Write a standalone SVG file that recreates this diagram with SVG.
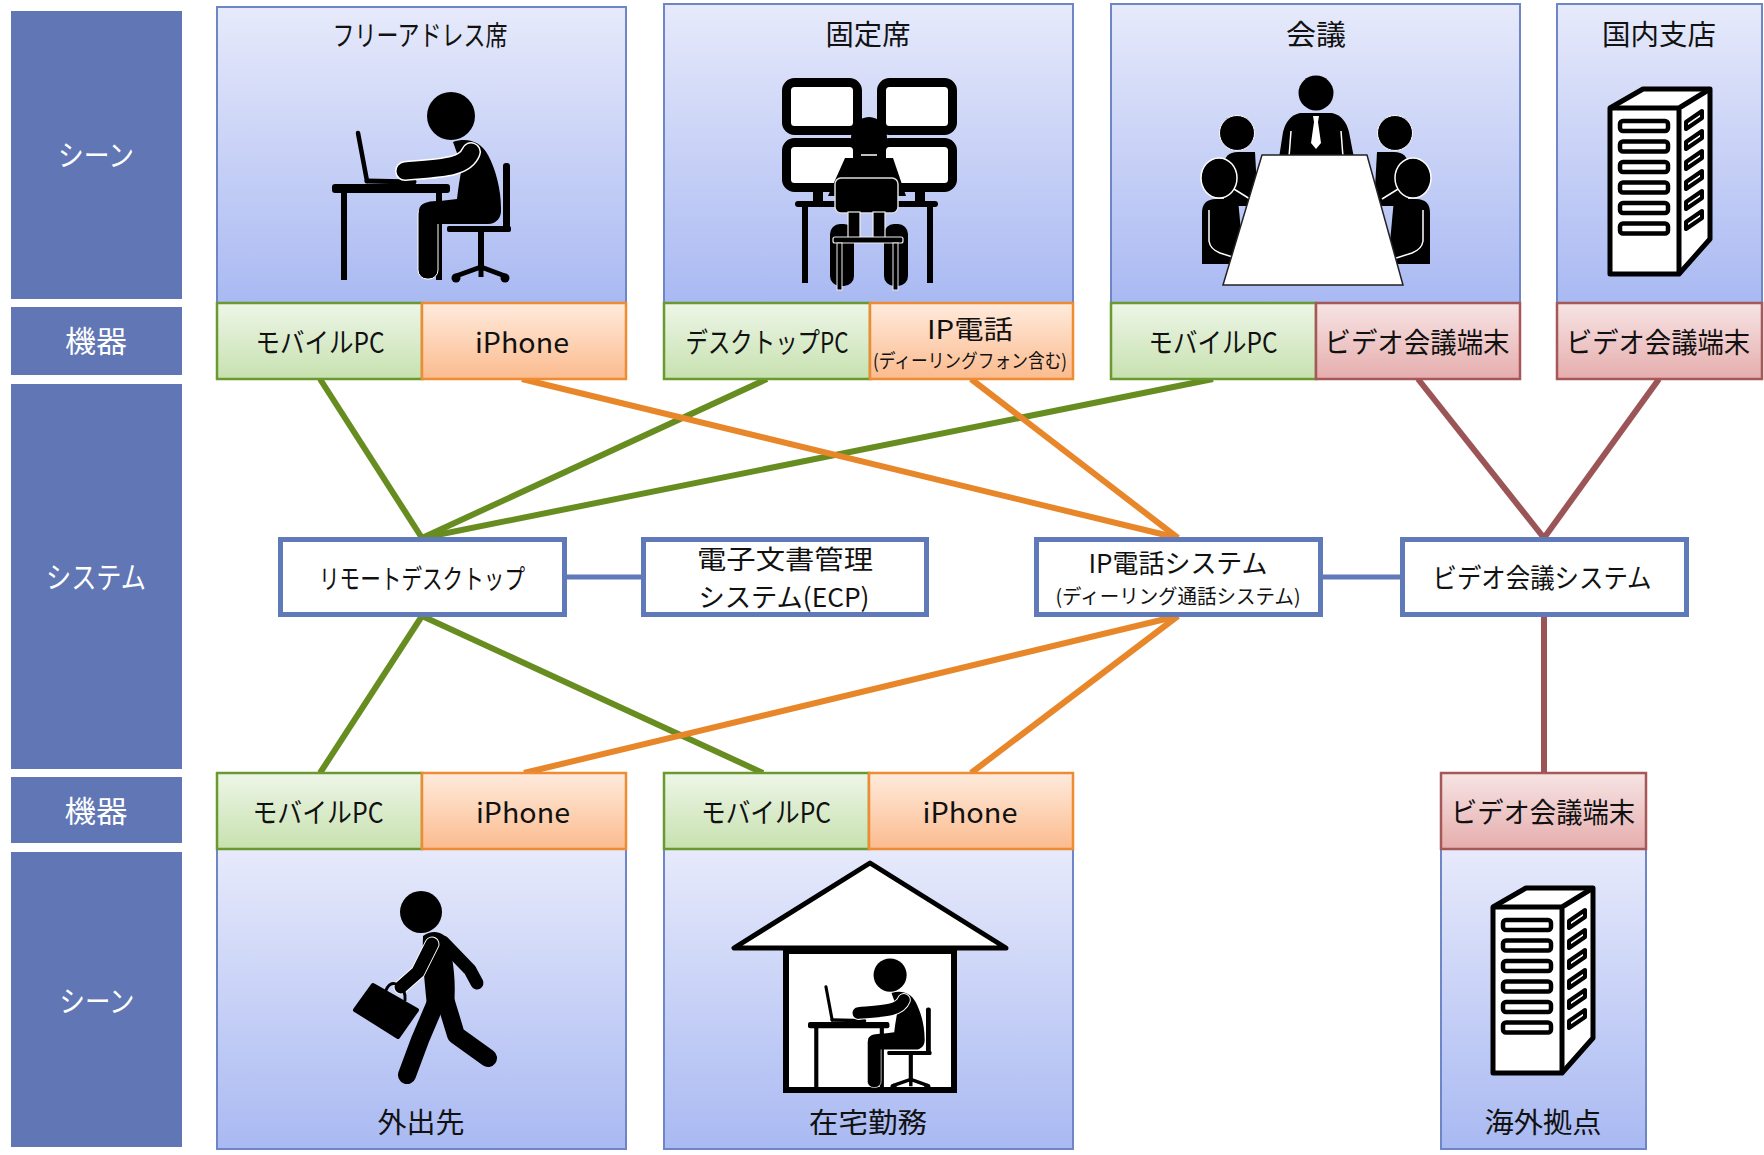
<svg xmlns="http://www.w3.org/2000/svg" xmlns:xlink="http://www.w3.org/1999/xlink" width="1764" height="1155" viewBox="0 0 1764 1155">
  <style>
    .t { font-family: "Noto Sans CJK JP", "Noto Sans", sans-serif; text-anchor: middle; fill: #111; }
    .side { fill: #6076B5; }
    .sideTxt { font-family: "Noto Sans CJK JP", "Noto Sans", sans-serif; text-anchor: middle; fill: #fff; font-size: 30px; }
    .scene { fill: url(#gScene); stroke: #6E86C5; stroke-width: 2; }
    .devG { fill: url(#gGreen); stroke: #6A9A2F; stroke-width: 2.5; }
    .devO { fill: url(#gOrange); stroke: #EE8B33; stroke-width: 2.5; }
    .devR { fill: url(#gRed); stroke: #A65758; stroke-width: 2.5; }
    .sys { fill: #fff; stroke: #6079B8; stroke-width: 5; }
    .cG { stroke: #678D21; stroke-width: 6; fill: none; }
    .cO { stroke: #E8862A; stroke-width: 6; fill: none; }
    .cR { stroke: #9C5557; stroke-width: 6; fill: none; }
    .cB { stroke: #6079B8; stroke-width: 5; fill: none; }
    .blk { fill: #000; }
    .wl { fill: none; stroke: #fff; stroke-width: 1.5; }
  </style>
  <defs>
    <linearGradient id="gScene" x1="0" y1="0" x2="0" y2="1">
      <stop offset="0" stop-color="#E7EAFB"/>
      <stop offset="1" stop-color="#A9B9F2"/>
    </linearGradient>
    <linearGradient id="gGreen" x1="0" y1="0" x2="0" y2="1">
      <stop offset="0" stop-color="#EEF6E8"/>
      <stop offset="1" stop-color="#C7E1AF"/>
    </linearGradient>
    <linearGradient id="gOrange" x1="0" y1="0" x2="0" y2="1">
      <stop offset="0" stop-color="#FFEBDD"/>
      <stop offset="1" stop-color="#FBBB8E"/>
    </linearGradient>
    <linearGradient id="gRed" x1="0" y1="0" x2="0" y2="1">
      <stop offset="0" stop-color="#F7E4E4"/>
      <stop offset="1" stop-color="#E6ADAD"/>
    </linearGradient>

    <!-- person working at a desk with a laptop -->
    <g id="deskWorker">
      <line x1="358" y1="133" x2="367" y2="181" stroke="#000" stroke-width="4.5" stroke-linecap="round"/>
      <line x1="367" y1="181" x2="414" y2="182" stroke="#000" stroke-width="5" stroke-linecap="round"/>
      <rect class="blk" x="332" y="184" width="118" height="9" rx="3"/>
      <rect class="blk" x="341" y="190" width="6" height="90"/>
      <rect class="blk" x="436" y="190" width="6" height="90"/>
      <!-- chair -->
      <rect class="blk" x="503" y="163" width="7" height="66" rx="3"/>
      <rect class="blk" x="478" y="231" width="6" height="38"/>
      <path d="M456,276 L481,267 L505,276 M481,267 L481,277" stroke="#000" stroke-width="5" fill="none" stroke-linejoin="round"/>
      <circle class="blk" cx="456" cy="278" r="4.5"/>
      <circle class="blk" cx="505" cy="278" r="4.5"/>
      <!-- body -->
      <rect class="blk" x="418" y="205" width="20" height="74" rx="9" stroke="#fff" stroke-width="1"/>
      <path class="blk" d="M453,142 C468,137 481,142 488,155 C496,170 501,190 501,208 C502,218 496,224 488,224 L428,224 C420,224 417,212 420,207 C423,202 430,201 440,201 L457,199 C458,189 460,177 462,167 Z"/>
      <rect class="blk" x="447" y="226" width="64" height="6" rx="2"/>
      <path d="M471,152 C465,168 440,168 405,171" stroke="#fff" stroke-width="20" fill="none" stroke-linecap="round"/>
      <path d="M471,152 C465,168 440,168 405,171" stroke="#000" stroke-width="17" fill="none" stroke-linecap="round"/>
      <circle class="blk" cx="451" cy="116" r="24"/>
    </g>

    <!-- server tower -->
    <g id="server" stroke="#000" stroke-linejoin="round">
      <path d="M0,0 L33,-19 L100,-19 L100,131 L69,166 L0,166 Z" fill="#fff" stroke-width="5"/>
      <path d="M0,0 L69,0 L100,-19 M69,0 L69,166" fill="none" stroke-width="5"/>
      <g fill="#fff" stroke-width="4.5">
        <rect x="10" y="13" width="48" height="10" rx="3"/>
        <rect x="10" y="33.5" width="48" height="10" rx="3"/>
        <rect x="10" y="54" width="48" height="10" rx="3"/>
        <rect x="10" y="74.5" width="48" height="10" rx="3"/>
        <rect x="10" y="95" width="48" height="10" rx="3"/>
        <rect x="10" y="115.5" width="48" height="10" rx="3"/>
      </g>
      <g fill="#fff" stroke-width="4">
        <path d="M76,14 L92,3 L92,10 L76,21 Z"/>
        <path d="M76,34 L92,23 L92,30 L76,41 Z"/>
        <path d="M76,54 L92,43 L92,50 L76,61 Z"/>
        <path d="M76,74 L92,63 L92,70 L76,81 Z"/>
        <path d="M76,94 L92,83 L92,90 L76,101 Z"/>
        <path d="M76,114 L92,103 L92,110 L76,121 Z"/>
      </g>
    </g>

    <!-- seated people at the left side of the meeting table -->
    <g id="sidePair">
      <path class="blk" d="M1224,206 L1224,166 Q1224,152 1238,152 L1255,152 L1258,206 Z"/>
      <path class="wl" d="M1229,162 L1229,186 L1250,199"/>
      <circle class="blk" cx="1237" cy="133" r="17.5" stroke="#fff" stroke-width="1"/>
      <path class="blk" d="M1202,264 L1202,213 Q1202,199 1216,199 L1238,199 L1244,264 Z"/>
      <path class="wl" d="M1209,210 L1209,241 Q1210,249 1220,253 L1242,260"/>
      <ellipse class="blk" cx="1219" cy="178" rx="18" ry="20" stroke="#fff" stroke-width="1.5"/>
    </g>
  </defs>

  <!-- row labels -->
  <g id="rowLabels">
    <rect class="side" x="11" y="11" width="171" height="288"/>
    <rect class="side" x="11" y="307" width="171" height="68"/>
    <rect class="side" x="11" y="384" width="171" height="385"/>
    <rect class="side" x="11" y="777" width="171" height="66"/>
    <rect class="side" x="11" y="852" width="171" height="295"/>
    <text class="sideTxt" x="96" y="166" textLength="76" lengthAdjust="spacingAndGlyphs">シーン</text>
    <text class="sideTxt" x="96" y="352" textLength="62" lengthAdjust="spacingAndGlyphs">機器</text>
    <text class="sideTxt" x="96" y="588" textLength="100" lengthAdjust="spacingAndGlyphs">システム</text>
    <text class="sideTxt" x="96" y="822" textLength="63" lengthAdjust="spacingAndGlyphs">機器</text>
    <text class="sideTxt" x="97" y="1012" textLength="75" lengthAdjust="spacingAndGlyphs">シーン</text>
  </g>

  <!-- connectors -->
  <g id="connectors" stroke-linecap="butt">
    <path class="cB" d="M567,577 L641,577"/>
    <path class="cB" d="M1323,577 L1400,577"/>
    <path class="cG" d="M320,379 L422,538"/>
    <path class="cG" d="M767,379 L422,538"/>
    <path class="cG" d="M1213,379 L422,538"/>
    <path class="cG" d="M422,616 L320,773"/>
    <path class="cG" d="M422,616 L763,773"/>
    <path class="cO" d="M522,379 L1178,538"/>
    <path class="cO" d="M971,379 L1178,538"/>
    <path class="cO" d="M1178,616 L524,773"/>
    <path class="cO" d="M1178,616 L971,773"/>
    <path class="cR" d="M1418,379 L1544,538"/>
    <path class="cR" d="M1659,379 L1544,538"/>
    <path class="cR" d="M1544,616 L1544,773"/>
  </g>

  <!-- scene: free address seats -->
  <g id="freeAddress">
    <rect class="scene" x="217" y="7" width="409" height="296"/>
    <text class="t" x="420" y="46" font-size="28" textLength="175" lengthAdjust="spacingAndGlyphs">フリーアドレス席</text>
    <use href="#deskWorker"/>
    <rect class="devG" x="217" y="303" width="205" height="76"/>
    <rect class="devO" x="422" y="303" width="204" height="76"/>
    <text class="t" x="320" y="353" font-size="28" textLength="129" lengthAdjust="spacingAndGlyphs">モバイルPC</text>
    <text class="t" x="522" y="353" font-size="28" textLength="94" lengthAdjust="spacingAndGlyphs">iPhone</text>
  </g>

  <!-- scene: fixed seats -->
  <g id="fixedSeat">
    <rect class="scene" x="664" y="4" width="409" height="299"/>
    <text class="t" x="868" y="45" font-size="28" textLength="85" lengthAdjust="spacingAndGlyphs">固定席</text>
    <g stroke="#000" stroke-width="9" fill="#fff">
      <rect x="786.5" y="82.5" width="71" height="48" rx="8"/>
      <rect x="881.5" y="82.5" width="71" height="48" rx="8"/>
      <rect x="786.5" y="142.5" width="71" height="45" rx="8"/>
      <rect x="881.5" y="142.5" width="71" height="45" rx="8"/>
    </g>
    <rect class="blk" x="813" y="188" width="10" height="15"/>
    <rect class="blk" x="915" y="188" width="10" height="15"/>
    <rect class="blk" x="795" y="201" width="143" height="6" rx="3"/>
    <rect class="blk" x="802" y="205" width="6" height="78"/>
    <rect class="blk" x="927" y="205" width="6" height="78"/>
    <ellipse class="blk" cx="869" cy="138" rx="18" ry="21"/>
    <path class="blk" d="M856,148 L882,148 L884,158 L893,158 L906,196 L828,196 L845,158 L854,158 Z"/>
    <path class="wl" d="M861,155 L877,155"/>
    <rect class="blk" x="830" y="224" width="24" height="62" rx="10"/>
    <rect class="blk" x="884" y="224" width="24" height="62" rx="10"/>
    <rect class="blk" x="835" y="178" width="63" height="35" rx="6" stroke="#ddd" stroke-width="1.5"/>
    <rect class="blk" x="848" y="212" width="12" height="26" stroke="#eee" stroke-width="1.2"/>
    <rect class="blk" x="873" y="212" width="12" height="26" stroke="#eee" stroke-width="1.2"/>
    <rect class="blk" x="833" y="237" width="70" height="6" rx="2" stroke="#eee" stroke-width="1.2"/>
    <rect class="blk" x="837" y="243" width="5" height="47" stroke="#eee" stroke-width="1"/>
    <rect class="blk" x="893" y="243" width="5" height="47" stroke="#eee" stroke-width="1"/>
    <rect class="devG" x="664" y="303" width="206" height="76"/>
    <rect class="devO" x="870" y="303" width="203" height="76"/>
    <text class="t" x="767" y="353" font-size="28" textLength="163" lengthAdjust="spacingAndGlyphs">デスクトップPC</text>
    <text class="t" x="970" y="339" font-size="26" textLength="86" lengthAdjust="spacingAndGlyphs">IP電話</text>
    <text class="t" x="970" y="368" font-size="19" textLength="194" lengthAdjust="spacingAndGlyphs">(ディーリングフォン含む)</text>
  </g>

  <!-- scene: meeting -->
  <g id="meeting">
    <rect class="scene" x="1111" y="4" width="409" height="299"/>
    <text class="t" x="1316" y="45" font-size="28" textLength="60" lengthAdjust="spacingAndGlyphs">会議</text>
    <use href="#sidePair"/>
    <use href="#sidePair" transform="matrix(-1,0,0,1,2632,0)"/>
    <circle class="blk" cx="1316" cy="93" r="17.5"/>
    <path class="blk" d="M1279,158 L1283,132 Q1287,116 1300,113 L1332,113 Q1345,116 1349,132 L1354,158 Z"/>
    <path d="M1313,116 L1319,116 L1318,122 L1321,143 L1316,149 L1311,143 L1314,122 Z" fill="#fff"/>
    <path class="wl" d="M1291,131 L1289,157 M1341,131 L1343,157"/>
    <polygon points="1262,155 1367,155 1403,285 1223,285" fill="#fff" stroke="#222" stroke-width="1.5"/>
    <rect class="devG" x="1111" y="303" width="205" height="76"/>
    <rect class="devR" x="1316" y="303" width="204" height="76"/>
    <text class="t" x="1213" y="353" font-size="28" textLength="129" lengthAdjust="spacingAndGlyphs">モバイルPC</text>
    <text class="t" x="1417" y="353" font-size="28" textLength="185" lengthAdjust="spacingAndGlyphs">ビデオ会議端末</text>
  </g>

  <!-- scene: domestic branch -->
  <g id="domesticBranch">
    <rect class="scene" x="1557" y="4" width="205" height="299"/>
    <text class="t" x="1659" y="45" font-size="28" textLength="114" lengthAdjust="spacingAndGlyphs">国内支店</text>
    <use href="#server" transform="translate(1610,108)"/>
    <rect class="devR" x="1557" y="303" width="205" height="76"/>
    <text class="t" x="1658" y="353" font-size="28" textLength="184" lengthAdjust="spacingAndGlyphs">ビデオ会議端末</text>
  </g>

  <!-- systems -->
  <g id="remoteDesktop">
    <rect class="sys" x="280.5" y="539.5" width="284" height="75"/>
    <text class="t" x="422" y="589" font-size="27" textLength="206" lengthAdjust="spacingAndGlyphs">リモートデスクトップ</text>
  </g>
  <g id="ecp">
    <rect class="sys" x="643.5" y="539.5" width="283" height="75"/>
    <text class="t" x="785" y="569" font-size="26" textLength="176" lengthAdjust="spacingAndGlyphs">電子文書管理</text>
    <text class="t" x="784" y="607" font-size="26" textLength="171" lengthAdjust="spacingAndGlyphs">システム(ECP)</text>
  </g>
  <g id="ipPhoneSystem">
    <rect class="sys" x="1036.5" y="539.5" width="284" height="75"/>
    <text class="t" x="1178" y="573" font-size="26" textLength="179" lengthAdjust="spacingAndGlyphs">IP電話システム</text>
    <text class="t" x="1178" y="604" font-size="20" textLength="245" lengthAdjust="spacingAndGlyphs">(ディーリング通話システム)</text>
  </g>
  <g id="videoConfSystem">
    <rect class="sys" x="1402.5" y="539.5" width="284" height="75"/>
    <text class="t" x="1542" y="588" font-size="27" textLength="219" lengthAdjust="spacingAndGlyphs">ビデオ会議システム</text>
  </g>

  <!-- scene: on the road -->
  <g id="outside">
    <rect class="scene" x="217" y="849" width="409" height="300"/>
    <rect class="devG" x="217" y="773" width="205" height="76"/>
    <rect class="devO" x="422" y="773" width="204" height="76"/>
    <text class="t" x="318" y="823" font-size="28" textLength="131" lengthAdjust="spacingAndGlyphs">モバイルPC</text>
    <text class="t" x="523" y="823" font-size="28" textLength="94" lengthAdjust="spacingAndGlyphs">iPhone</text>
    <g stroke-linecap="round" stroke-linejoin="round" fill="none">
      <path d="M437,1000 L420,1040 L407,1075" stroke="#000" stroke-width="18"/>
      <path d="M446,1002 L456,1035 L488,1058" stroke="#000" stroke-width="18"/>
      <path d="M443,942 L470,970 L477,983" stroke="#000" stroke-width="13"/>
      <path class="blk" d="M423,936 C432,929 445,931 448,942 C454,960 456,985 454,1006 L427,1006 C425,985 422,960 423,936 Z"/>
      <path d="M432,944 L418,972 L401,987" stroke="#fff" stroke-width="15"/>
      <path d="M432,944 L418,972 L401,987" stroke="#000" stroke-width="13"/>
      <path d="M385,993 Q389,980 398,985 Q406,990 405,1000" stroke="#000" stroke-width="3"/>
      <polygon points="355,1010 373,985 417,1010 398,1037" fill="#000" stroke="#000" stroke-width="4"/>
    </g>
    <circle class="blk" cx="421" cy="912" r="21"/>
    <text class="t" x="421" y="1133" font-size="28" textLength="87" lengthAdjust="spacingAndGlyphs">外出先</text>
  </g>

  <!-- scene: working from home -->
  <g id="home">
    <rect class="scene" x="664" y="849" width="409" height="300"/>
    <rect class="devG" x="664" y="773" width="205" height="76"/>
    <rect class="devO" x="869" y="773" width="204" height="76"/>
    <text class="t" x="766" y="823" font-size="28" textLength="130" lengthAdjust="spacingAndGlyphs">モバイルPC</text>
    <text class="t" x="970" y="823" font-size="28" textLength="95" lengthAdjust="spacingAndGlyphs">iPhone</text>
    <polygon points="870,863 734,948 1006,948" fill="#fff" stroke="#000" stroke-width="5" stroke-linejoin="round"/>
    <rect x="786" y="951" width="168" height="139" fill="#fff" stroke="#000" stroke-width="6"/>
    <use href="#deskWorker" transform="translate(808,1022) scale(0.69) translate(-332,-184)"/>
    <text class="t" x="868" y="1133" font-size="28" textLength="118" lengthAdjust="spacingAndGlyphs">在宅勤務</text>
  </g>

  <!-- scene: overseas office -->
  <g id="overseas">
    <rect class="scene" x="1441" y="849" width="205" height="300"/>
    <rect class="devR" x="1441" y="773" width="205" height="76"/>
    <text class="t" x="1543" y="823" font-size="28" textLength="184" lengthAdjust="spacingAndGlyphs">ビデオ会議端末</text>
    <use href="#server" transform="translate(1493,907)"/>
    <text class="t" x="1543" y="1133" font-size="28" textLength="117" lengthAdjust="spacingAndGlyphs">海外拠点</text>
  </g>
</svg>
